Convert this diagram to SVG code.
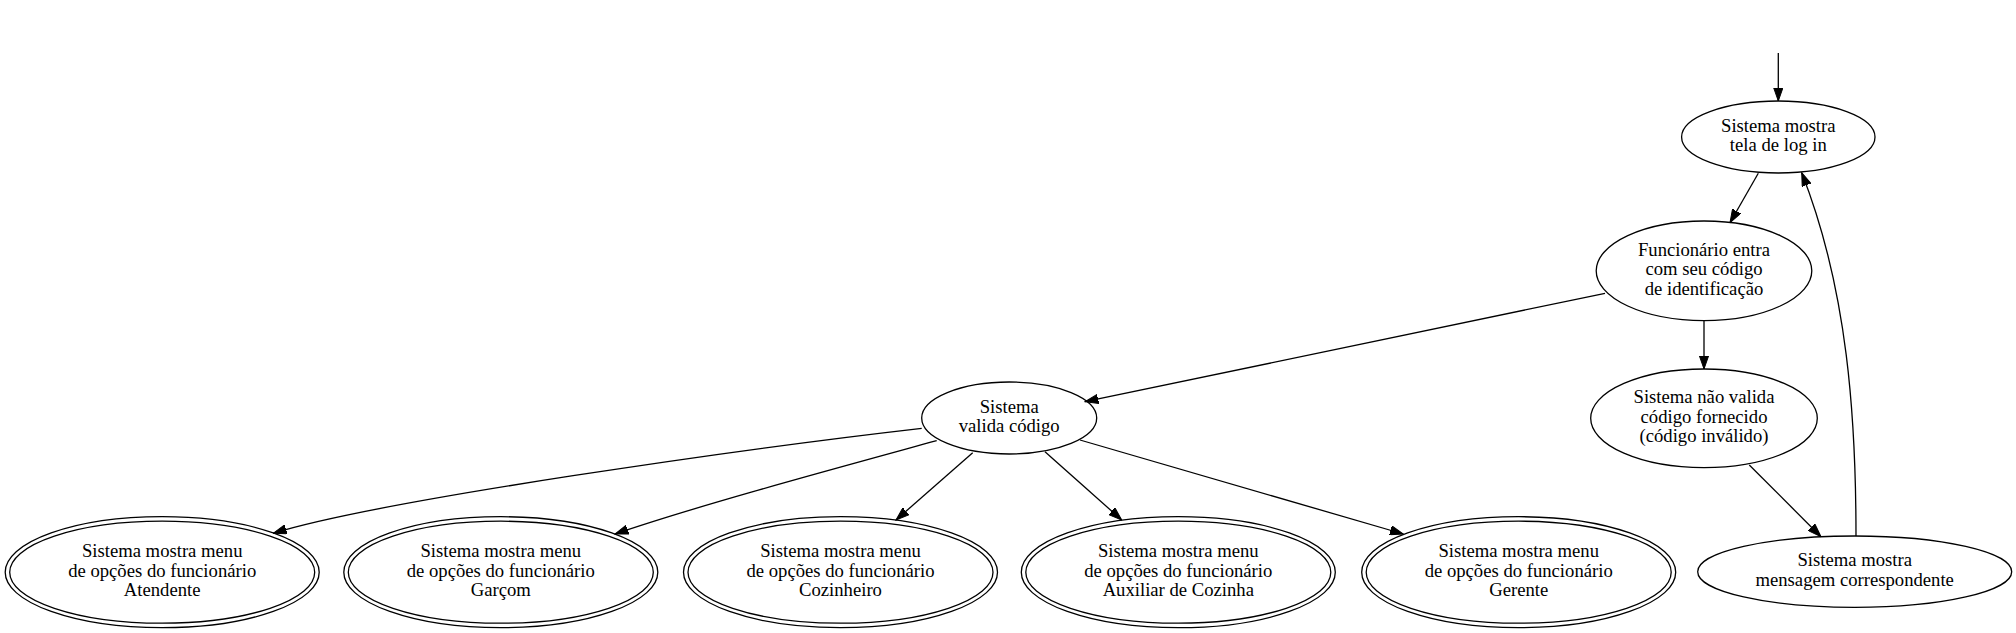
<svg xmlns="http://www.w3.org/2000/svg" width="2016" height="633" viewBox="0 0 2016 633">
<style>
.n ellipse{fill:none;stroke:#000;stroke-width:1.3}
.n text{font-family:"Liberation Serif","Times New Roman",serif;font-size:18.67px;text-anchor:middle;fill:#000}
.e path{fill:none;stroke:#000;stroke-width:1.3;marker-end:url(#ah)}
</style>
<defs>
<marker id="ah" markerUnits="userSpaceOnUse" markerWidth="14" markerHeight="10" refX="13.3" refY="4.67" orient="auto" viewBox="0 0 14 9.34">
<path d="M0,0 L13.3,4.67 L0,9.34 z" fill="#000" stroke="#000" stroke-width="1"/>
</marker>
</defs>
<rect width="2016" height="633" fill="#fff"/>
<g id="edges" class="e">
<path d="M1778.3,53 L1778.3,101"/>
<path d="M1758.3,173.3 L1730,222.7"/>
<path d="M1605,293.3 L1085,401.7"/>
<path d="M1704,320.7 L1704,369"/>
<path d="M1749.3,465 L1821,536.7"/>
<path d="M1856,536 C1856,420 1848,290 1801.7,172.7"/>
<path d="M921.7,428.3 C750,448 380,500 273.3,533.3"/>
<path d="M936.7,440.7 C830,470 700,505 615,534"/>
<path d="M972.7,452.7 L896,520"/>
<path d="M1045,451.7 L1121.7,520"/>
<path d="M1080,440 L1403.3,534"/>
</g>
<g id="login" class="n">
<ellipse cx="1778.3" cy="137" rx="96.7" ry="36"/>
<text x="1778.3" y="131.8">Sistema mostra<tspan x="1778.3" dy="19.6">tela de log in</tspan></text>
</g>
<g id="funcionario" class="n">
<ellipse cx="1704" cy="270.8" rx="107.8" ry="49.8"/>
<text x="1704" y="255.7">Funcionário entra<tspan x="1704" dy="19.6">com seu código</tspan><tspan x="1704" dy="19.6">de identificação</tspan></text>
</g>
<g id="valida" class="n">
<ellipse cx="1009.2" cy="418" rx="87.5" ry="36"/>
<text x="1009.2" y="412.7">Sistema<tspan x="1009.2" dy="19.6">valida código</tspan></text>
</g>
<g id="naovalida" class="n">
<ellipse cx="1704" cy="418.3" rx="113.3" ry="49.3"/>
<text x="1704" y="403.2">Sistema não valida<tspan x="1704" dy="19.6">código fornecido</tspan><tspan x="1704" dy="19.6">(código inválido)</tspan></text>
</g>
<g id="mensagem" class="n">
<ellipse cx="1854.7" cy="571.7" rx="157" ry="35.7"/>
<text x="1854.7" y="566.4">Sistema mostra<tspan x="1854.7" dy="19.6">mensagem correspondente</tspan></text>
</g>
<g id="atendente" class="n">
<ellipse cx="162.2" cy="572.2" rx="157" ry="55.5"/>
<ellipse cx="162.2" cy="572.2" rx="152.5" ry="51"/>
<text x="162.2" y="557.1">Sistema mostra menu<tspan x="162.2" dy="19.6">de opções do funcionário</tspan><tspan x="162.2" dy="19.6">Atendente</tspan></text>
</g>
<g id="garcom" class="n">
<ellipse cx="500.8" cy="572.2" rx="157" ry="55.5"/>
<ellipse cx="500.8" cy="572.2" rx="152.5" ry="51"/>
<text x="500.8" y="557.1">Sistema mostra menu<tspan x="500.8" dy="19.6">de opções do funcionário</tspan><tspan x="500.8" dy="19.6">Garçom</tspan></text>
</g>
<g id="cozinheiro" class="n">
<ellipse cx="840.5" cy="572.2" rx="157" ry="55.5"/>
<ellipse cx="840.5" cy="572.2" rx="152.5" ry="51"/>
<text x="840.5" y="557.1">Sistema mostra menu<tspan x="840.5" dy="19.6">de opções do funcionário</tspan><tspan x="840.5" dy="19.6">Cozinheiro</tspan></text>
</g>
<g id="auxiliar" class="n">
<ellipse cx="1178.3" cy="572.2" rx="157" ry="55.5"/>
<ellipse cx="1178.3" cy="572.2" rx="152.5" ry="51"/>
<text x="1178.3" y="557.1">Sistema mostra menu<tspan x="1178.3" dy="19.6">de opções do funcionário</tspan><tspan x="1178.3" dy="19.6">Auxiliar de Cozinha</tspan></text>
</g>
<g id="gerente" class="n">
<ellipse cx="1518.7" cy="572.2" rx="157" ry="55.5"/>
<ellipse cx="1518.7" cy="572.2" rx="152.5" ry="51"/>
<text x="1518.7" y="557.1">Sistema mostra menu<tspan x="1518.7" dy="19.6">de opções do funcionário</tspan><tspan x="1518.7" dy="19.6">Gerente</tspan></text>
</g>
</svg>
